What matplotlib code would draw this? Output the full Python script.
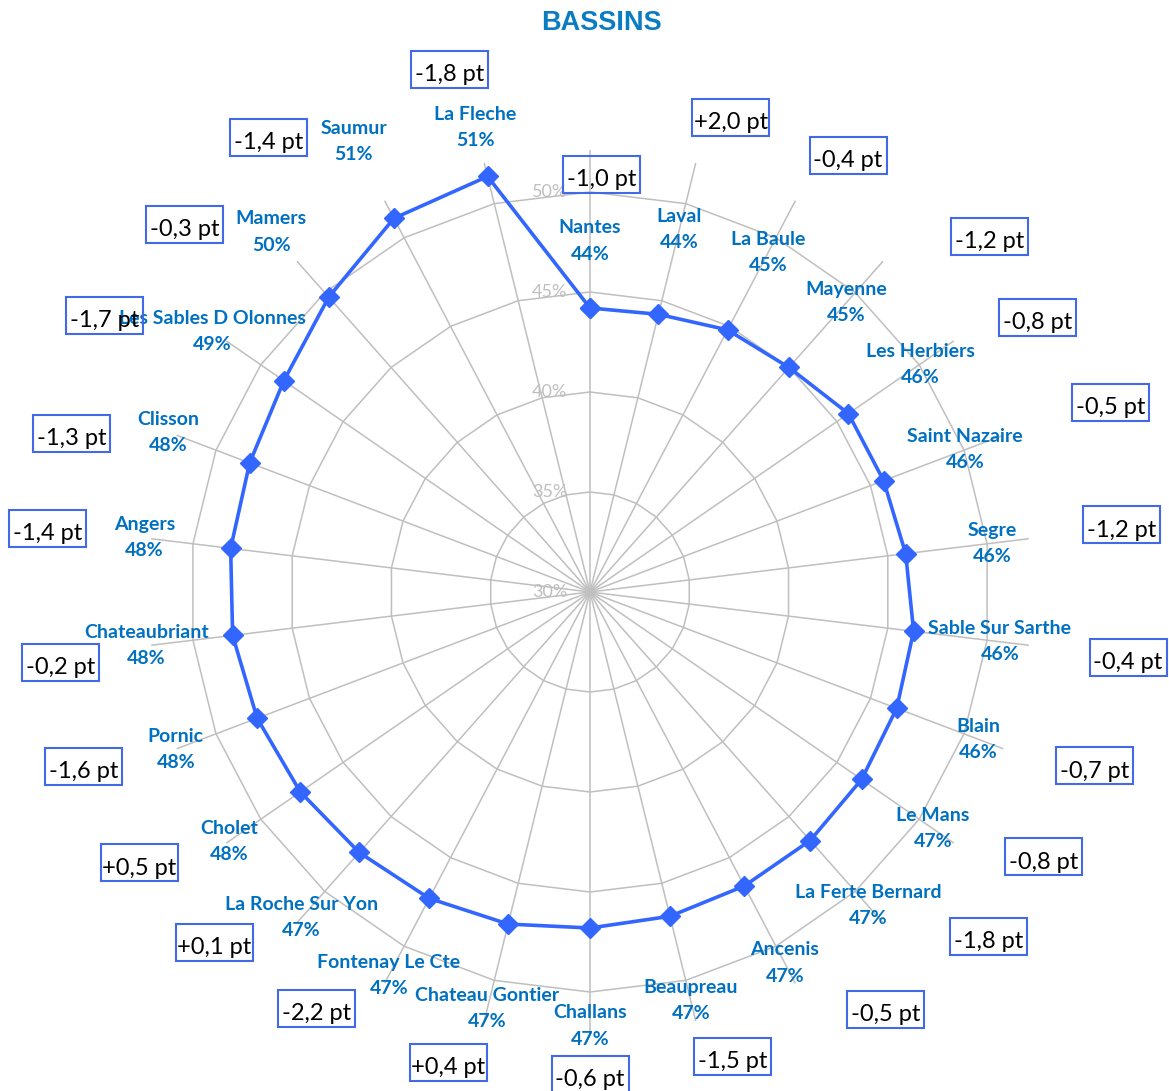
import numpy as np
import matplotlib
matplotlib.use("Agg")
import matplotlib.pyplot as plt
from matplotlib.patches import Rectangle
from matplotlib.transforms import IdentityTransform

# ---------------- data ----------------
categories = ["Nantes", "Laval", "La Baule", "Mayenne", "Les Herbiers", "Saint Nazaire",
              "Segre", "Sable Sur Sarthe", "Blain", "Le Mans", "La Ferte Bernard", "Ancenis",
              "Beaupreau", "Challans", "Chateau Gontier", "Fontenay Le Cte", "La Roche Sur Yon",
              "Cholet", "Pornic", "Chateaubriant", "Angers", "Clisson", "Les Sables D Olonnes",
              "Mamers", "Saumur", "La Fleche"]
values = [44.2, 44.3, 44.8, 45.0, 45.7, 45.7,
          45.9, 46.3, 46.4, 46.5, 46.6, 46.6,
          46.7, 46.8, 47.1, 47.3, 47.4,
          47.6, 47.8, 48.0, 48.1, 48.2, 48.6,
          49.7, 51.1, 51.4]
deltas = [-1.0, +2.0, -0.4, -1.2, -0.8, -0.5,
          -1.2, -0.4, -0.7, -0.8, -1.8, -0.5,
          -1.5, -0.6, +0.4, -2.2, +0.1,
          +0.5, -1.6, -0.2, -1.4, -1.3, -1.7,
          -0.3, -1.4, -1.8]
r_ticks = [30, 35, 40, 45, 50]
r_min, r_max = 30, 52.1
title = "BASSINS"

# ---------------- layout (not data) ----------------
W, H, DPI = 1169, 1091, 100
CX, CY, RPX = 590, 592, 442          # centre and outer radius in pixels
PX_PER_UNIT = RPX / (r_max - r_min)
label_gap_px = 87                      # radial gap between marker and its label
label_gap_override = {"Nantes": 67, "Challans": 98, "La Fleche": 50}
# delta boxes: (angle in degrees clockwise from north, distance from centre in px)
box_polar = [(1.6, 418), (16.5, 495), (30.6, 507), (48.3, 535), (58.5, 525), (70.0, 554),
             (82.8, 536), (96.9, 542), (109.0, 534), (120.3, 525), (130.8, 527), (144.7, 511),
             (162.9, 486), (180.0, 482), (196.8, 491), (213.3, 498), (227.0, 514),
             (239.0, 526), (251.0, 536), (262.4, 534), (276.7, 546), (287.0, 542), (299.7, 559),
             (312.2, 547), (324.7, 557), (345.0, 541)]
BOX_W, BOX_H = 77, 37                  # pixels

GRID = "#BFBFBF"
LINE = "#3366FF"
LABEL = "#0070C0"
TITLE_C = "#0A7DC2"
BOX_EDGE = "#4169E8"


def pct(v):
    return f"{int(v + 0.5)}%"


fig = plt.figure(figsize=(W / DPI, H / DPI), dpi=DPI)
ax = fig.add_axes([(CX - RPX) / W, (H - CY - RPX) / H, 2 * RPX / W, 2 * RPX / H],
                  projection="polar")
ax.set_theta_zero_location("N")
ax.set_theta_direction(-1)
ax.set_ylim(r_min, r_max)
ax.grid(False)
ax.set_xticks([])
ax.set_yticks([])
ax.spines["polar"].set_visible(False)
ax.patch.set_alpha(0)

n = len(categories)
theta = np.arange(n) * 2 * np.pi / n

# spokes
for t in theta:
    ax.plot([t, t], [r_min, r_max], color=GRID, lw=1.1, zorder=1)
# polygon rings
tc = np.append(theta, theta[0])
for rv in r_ticks[1:]:
    ax.plot(tc, [rv] * len(tc), color=GRID, lw=1.1, zorder=1)
# radial tick labels
for rv in r_ticks:
    ax.annotate(f"{rv}%", xy=(0, rv), xytext=(-16.5, 0), textcoords="offset points",
                ha="right", va="center", fontsize=13, color=GRID, family="Lato",
                zorder=2, annotation_clip=False)

# data series
vc = np.append(values, values[0])
ax.plot(tc, vc, color=LINE, lw=2.6, marker="D", markersize=10.5, zorder=4)

# data labels
for t, name, v in zip(theta, categories, values):
    gap = label_gap_override.get(name, label_gap_px) / PX_PER_UNIT
    rl = v + gap
    ax.annotate(name, xy=(t, rl), xytext=(0, 9.4), textcoords="offset points",
                ha="center", va="center", fontsize=14, fontweight="bold",
                color=LABEL, family="Lato", zorder=5, annotation_clip=False)
    ax.annotate(pct(v), xy=(t, rl), xytext=(0, -9.4), textcoords="offset points",
                ha="center", va="center", fontsize=14, fontweight="bold",
                color=LABEL, family="Lato", zorder=5, annotation_clip=False)

# delta boxes
for d, (adeg, rpx) in zip(deltas, box_polar):
    txt = f"{d:+.1f}".replace(".", ",") + " pt"
    pos = (np.deg2rad(adeg), r_min + rpx / PX_PER_UNIT)
    ax.annotate(txt, xy=pos, xytext=(0, -8.5), textcoords="offset points",
                ha="center", va="baseline", fontsize=17, color="black", family="Lato",
                zorder=6, annotation_clip=False)
    px, py = ax.transData.transform(pos)
    fig.add_artist(Rectangle((px - BOX_W / 2, py - BOX_H / 2), BOX_W, BOX_H,
                             transform=IdentityTransform(), fill=False,
                             edgecolor=BOX_EDGE, lw=1.5, zorder=7))

fig.text(601 / W, 1 - 23 / H, title, ha="center", va="center", fontsize=19.5,
         fontweight="bold", color=TITLE_C, family="Liberation Sans")

fig.savefig("out.png", dpi=DPI)
